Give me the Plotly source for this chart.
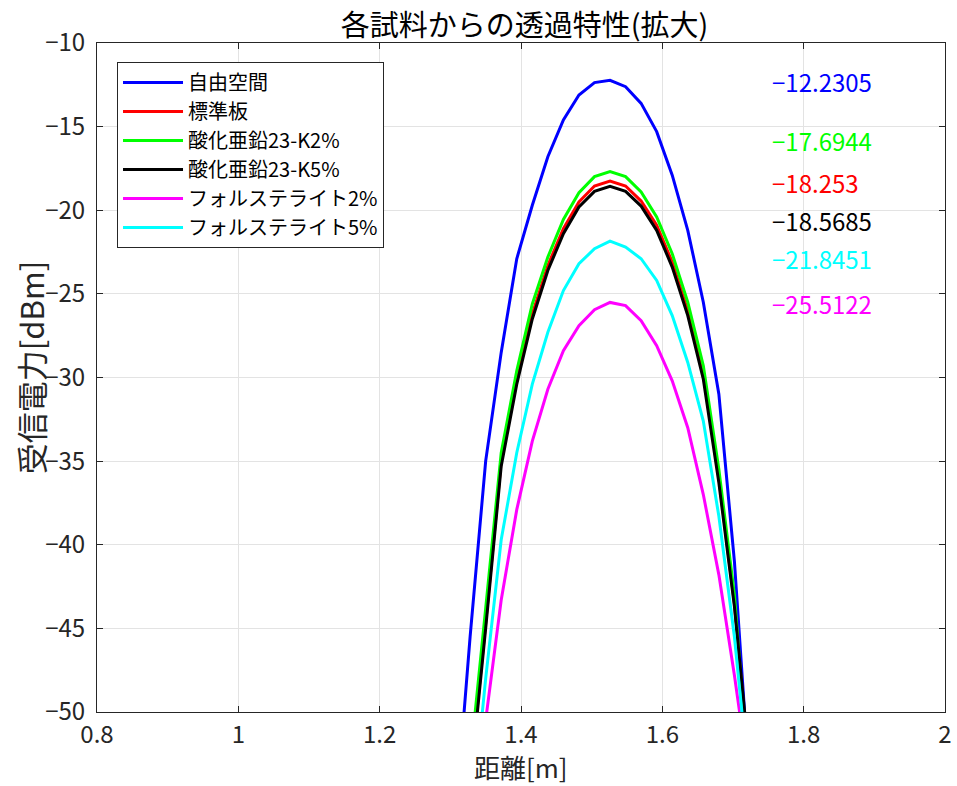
import plotly.graph_objects as go

# Distance [m] at which the received power was sampled
distance = [1.306, 1.328, 1.350, 1.372, 1.394, 1.416, 1.438, 1.460, 1.482, 1.504,
            1.526, 1.548, 1.570, 1.592, 1.614, 1.636, 1.658, 1.680, 1.702, 1.724]

# Received power [dBm] for each sample
free_space = [-57.1, -45.5, -35.0, -28.5, -22.9, -19.7, -16.8, -14.6, -13.11, -12.37,
              -12.2305, -12.61, -13.61, -15.3, -17.9, -21.2, -25.5, -31.0, -41.0, -54.75]
standard_plate = [-66.0, -54.0, -44.7, -35.0, -30.1, -26.2, -23.3, -21.1, -19.5, -18.55,
                  -18.253, -18.55, -19.45, -20.9, -23.1, -26.0, -29.8, -36.0, -43.5, -54.0]
zno_k2 = [-65.0, -53.0, -43.8, -34.5, -29.6, -25.6, -22.8, -20.55, -18.95, -17.99,
          -17.6944, -17.99, -18.9, -20.4, -22.6, -25.5, -29.3, -35.5, -43.0, -55.0]
zno_k5 = [-66.0, -54.4, -45.0, -35.3, -30.4, -26.5, -23.6, -21.4, -19.8, -18.87,
          -18.5685, -18.87, -19.75, -21.2, -23.4, -26.3, -30.1, -36.3, -43.7, -53.3]
forsterite_2 = [-72.0, -62.0, -50.5, -43.3, -37.9, -33.8, -30.7, -28.4, -26.9, -25.95,
                -25.5122, -25.7, -26.6, -28.1, -30.2, -33.0, -37.0, -41.8, -47.8, -54.4]
forsterite_5 = [-70.0, -57.4, -48.0, -39.7, -34.5, -30.4, -27.3, -24.8, -23.2, -22.3,
                -21.8451, -22.2, -22.9, -24.2, -26.3, -29.1, -32.6, -38.3, -45.5, -54.8]

series_names = ["自由空間", "標準板", "酸化亜鉛23-K2%", "酸化亜鉛23-K5%",
                "フォルステライト2%", "フォルステライト5%"]
series_values = [free_space, standard_plate, zno_k2, zno_k5, forsterite_2, forsterite_5]
series_colors = ["#0000ff", "#ff0000", "#00ff00", "#000000", "#ff00ff", "#00ffff"]

# Peak-value labels: order of the stacked text column and its y placement
label_order = [0, 2, 1, 3, 5, 4]
label_y = [-12.33, -15.8, -18.37, -20.64, -22.91, -25.55]
label_x = 1.752

FONT = "Noto Sans CJK JP, Noto Sans, sans-serif"
AXIS_COLOR = "#262626"
GRID_COLOR = "#e3e3e3"

fig = go.Figure()
for name, vals, col in zip(series_names, series_values, series_colors):
    fig.add_trace(go.Scatter(x=distance, y=vals, mode="lines", name=name,
                             line=dict(color=col, width=3)))

for idx, y in zip(label_order, label_y):
    peak = max(series_values[idx])
    fig.add_annotation(x=label_x, y=y, xref="x", yref="y",
                       text=f"{peak:g}".replace("-", "\u2212"),
                       showarrow=False, xanchor="left", yanchor="middle",
                       font=dict(family=FONT, size=24, color=series_colors[idx]))

# Axis titles placed as paper-anchored text
fig.add_annotation(x=0.5, y=-0.081, xref="paper", yref="paper", text="距離[m]",
                   showarrow=False, xanchor="center", yanchor="middle",
                   font=dict(family=FONT, size=26, color=AXIS_COLOR))
fig.add_annotation(x=-0.079, y=0.514, xref="paper", yref="paper", text="受信電力[dBm]",
                   showarrow=False, xanchor="center", yanchor="middle", textangle=-90,
                   font=dict(family=FONT, size=31, color=AXIS_COLOR))

axis_common = dict(showline=True, linecolor=AXIS_COLOR, linewidth=1, mirror="ticks",
                   ticks="inside", ticklen=6, tickcolor=AXIS_COLOR, tickwidth=1,
                   showgrid=True, gridcolor=GRID_COLOR, gridwidth=1, zeroline=False,
                   automargin=False,
                   tickfont=dict(family=FONT, size=24, color=AXIS_COLOR))

fig.update_xaxes(range=[0.8, 2.0], tickvals=[0.8, 1.0, 1.2, 1.4, 1.6, 1.8, 2.0],
                 ticktext=["0.8", "1", "1.2", "1.4", "1.6", "1.8", "2"],
                 ticklabelstandoff=1, **axis_common)
fig.update_yaxes(range=[-50, -10], tickvals=[-50, -45, -40, -35, -30, -25, -20, -15, -10],
                 ticktext=["\u221250", "\u221245", "\u221240", "\u221235", "\u221230",
                           "\u221225", "\u221220", "\u221215", "\u221210"],
                 ticklabelstandoff=6, **axis_common)

fig.update_layout(
    width=957, height=786,
    margin=dict(l=97, r=12, t=43, b=74),
    paper_bgcolor="white", plot_bgcolor="white",
    title=dict(text="各試料からの透過特性(拡大)", x=0.548, xanchor="center",
               y=0.967, yanchor="middle", font=dict(family=FONT, size=29, color="#000000")),
    legend=dict(x=0.0236, y=0.9716, xanchor="left", yanchor="top",
                bgcolor="white", bordercolor=AXIS_COLOR, borderwidth=1,
                font=dict(family=FONT, size=20, color="#000000"),
                itemwidth=60, tracegroupgap=0),
    showlegend=True,
)

fig.write_html("out.html")
